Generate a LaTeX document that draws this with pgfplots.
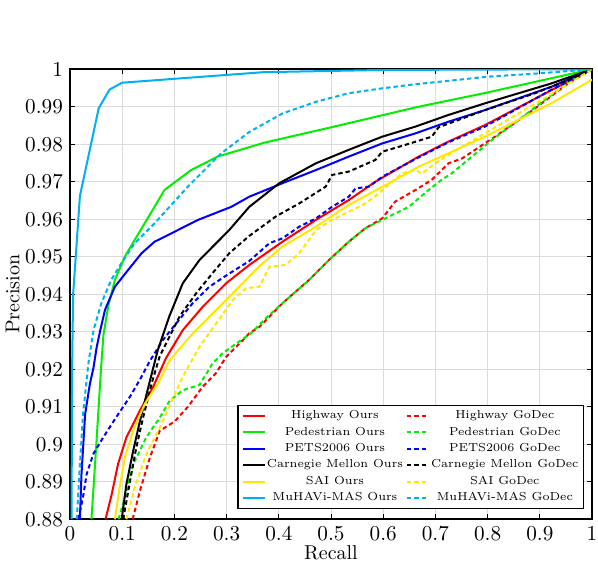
\documentclass[border=0pt]{standalone}
\usepackage{pgfplots}
\pgfplotsset{compat=1.18}
\definecolor{cR}{RGB}{255,0,0}
\definecolor{cG}{RGB}{0,240,0}
\definecolor{cB}{RGB}{0,0,255}
\definecolor{cK}{RGB}{0,0,0}
\definecolor{cY}{RGB}{255,232,0}
\definecolor{cC}{RGB}{0,176,240}
\begin{document}
\begin{tikzpicture}
\path[use as bounding box] (-35pt,-24.4pt) rectangle (264pt,259.6pt);
\begin{axis}[
  at={(0,0)}, anchor=south west,
  scale only axis, width=261pt, height=225pt,
  xmin=0, xmax=1, ymin=0.88, ymax=1,
  xtick={0,0.1,0.2,0.3,0.4,0.5,0.6,0.7,0.8,0.9,1},
  xticklabels={0,0.1,0.2,0.3,0.4,0.5,0.6,0.7,0.8,0.9,1},
  ytick={0.88,0.89,0.9,0.91,0.92,0.93,0.94,0.95,0.96,0.97,0.98,0.99,1},
  yticklabels={0.88,0.89,0.9,0.91,0.92,0.93,0.94,0.95,0.96,0.97,0.98,0.99,1},
  tick label style={font=\fontsize{10.6}{12}\selectfont},
  label style={font=\fontsize{10.8}{12}\selectfont},
  xlabel={Recall}, ylabel={Precision},
  every axis x label/.style={at={(axis description cs:0.5,-0.0756)}, anchor=center},
  every axis y label/.style={at={(axis description cs:-0.11,0.5)}, rotate=90, anchor=center},
  grid=major, grid style={gray!28, line width=0.5pt},
  tick align=inside, major tick length=2.5pt,
  xtick pos=both, ytick pos=both,
  axis line style={line width=0.8pt},
  every tick/.style={black, line width=0.4pt},
  legend columns=2,
  legend cell align=center,
  legend image code/.code={\draw[#1] (0pt,0pt) -- (11pt,0pt);},
  legend style={at={(axis description cs:0.985,0.022)}, anchor=south east,
    font=\fontsize{5.8}{7}\selectfont, draw=black, line width=0.6pt,
    nodes={inner sep=0.5pt},
    inner xsep=2pt, inner ysep=2pt, row sep=1.6pt,
    /tikz/every even column/.append style={column sep=1pt},
    /tikz/every odd column/.append style={column sep=0pt}},
  every axis plot/.append style={line width=1pt},
]
% Highway Ours
\addplot[cR] coordinates {(0.068,0.88) (0.08,0.8867) (0.092,0.8947) (0.108,0.9018) (0.134,0.909) (0.159,0.9152) (0.184,0.923) (0.216,0.9304) (0.254,0.9366) (0.299,0.9429) (0.3435,0.9478) (0.407,0.954) (0.471,0.9598) (0.534,0.9651) (0.585,0.97) (0.668,0.9767) (0.725,0.9807) (0.795,0.9851) (0.922,0.9944) (1,1)};
\addlegendentry{Highway Ours}
% Highway GoDec
\addplot[cR, dash pattern=on 2.2pt off 1.5pt] coordinates {(0.12,0.88) (0.134,0.8876) (0.153,0.8964) (0.172,0.9036) (0.2,0.906) (0.226,0.91) (0.254,0.9153) (0.28,0.919) (0.299,0.9233) (0.331,0.9277) (0.3435,0.9296) (0.363,0.9313) (0.407,0.9376) (0.458,0.9438) (0.496,0.9491) (0.534,0.954) (0.566,0.9576) (0.598,0.9602) (0.623,0.9647) (0.662,0.9678) (0.693,0.9705) (0.725,0.9749) (0.751,0.9762) (0.814,0.982) (0.878,0.9882) (0.954,0.9962) (1,1)};
\addlegendentry{Highway GoDec}
% Pedestrian Ours
\addplot[cG] coordinates {(0.041,0.88) (0.048,0.8946) (0.054,0.908) (0.06,0.9213) (0.064,0.929) (0.073,0.9367) (0.086,0.9438) (0.105,0.95) (0.124,0.9545) (0.143,0.9589) (0.162,0.9633) (0.181,0.9678) (0.232,0.9731) (0.283,0.9767) (0.372,0.9804) (0.5,0.9845) (0.668,0.99) (0.8,0.9938) (1,1)};
\addlegendentry{Pedestrian Ours}
% Pedestrian GoDec
\addplot[cG, dash pattern=on 2.2pt off 1.5pt] coordinates {(0.093,0.88) (0.105,0.8857) (0.121,0.8946) (0.146,0.9018) (0.172,0.9071) (0.191,0.9116) (0.216,0.9144) (0.248,0.9158) (0.273,0.9215) (0.292,0.9242) (0.318,0.9268) (0.347,0.9296) (0.372,0.9332) (0.407,0.9376) (0.458,0.9438) (0.496,0.9491) (0.534,0.954) (0.566,0.9576) (0.611,0.9607) (0.649,0.9633) (0.687,0.9678) (0.712,0.9705) (0.731,0.9722) (0.808,0.9811) (0.884,0.9891) (0.96,0.9971) (1,1)};
\addlegendentry{Pedestrian GoDec}
% PETS2006 Ours
\addplot[cB] coordinates {(0.019,0.88) (0.022,0.892) (0.029,0.908) (0.038,0.916) (0.045,0.9204) (0.051,0.9258) (0.058,0.9304) (0.067,0.9358) (0.086,0.942) (0.111,0.9464) (0.137,0.9509) (0.162,0.954) (0.181,0.9553) (0.245,0.9598) (0.309,0.9633) (0.3435,0.966) (0.407,0.9696) (0.471,0.9731) (0.534,0.9767) (0.598,0.9802) (0.662,0.9829) (0.725,0.986) (0.795,0.9891) (0.922,0.9953) (1,1)};
\addlegendentry{PETS2006 Ours}
% PETS2006 GoDec
\addplot[cB, dash pattern=on 2.2pt off 1.5pt] coordinates {(0.016,0.88) (0.025,0.8859) (0.032,0.8921) (0.045,0.8975) (0.064,0.9019) (0.089,0.9073) (0.115,0.9127) (0.135,0.9175) (0.153,0.9222) (0.178,0.9278) (0.204,0.9323) (0.235,0.9376) (0.267,0.942) (0.305,0.9455) (0.343,0.9488) (0.382,0.9536) (0.407,0.9549) (0.439,0.958) (0.471,0.9602) (0.502,0.9633) (0.534,0.966) (0.547,0.9682) (0.573,0.9687) (0.598,0.9713) (0.668,0.9765) (0.725,0.9805) (0.795,0.9847) (0.922,0.9945) (1,1)};
\addlegendentry{PETS2006 GoDec}
% Carnegie Mellon Ours
\addplot[cK] coordinates {(0.099,0.88) (0.108,0.8893) (0.121,0.8982) (0.134,0.9062) (0.15,0.9152) (0.168,0.925) (0.19,0.934) (0.216,0.9429) (0.248,0.9491) (0.28,0.9536) (0.305,0.9571) (0.3435,0.9633) (0.401,0.9696) (0.471,0.9749) (0.534,0.9785) (0.598,0.982) (0.662,0.9847) (0.725,0.9878) (0.795,0.9909) (0.922,0.9962) (1,1)};
\addlegendentry{Carnegie Mellon Ours}
% Carnegie Mellon GoDec
\addplot[cK, dash pattern=on 2.2pt off 1.5pt] coordinates {(0.102,0.88) (0.115,0.8902) (0.127,0.8991) (0.14,0.9071) (0.156,0.916) (0.172,0.9235) (0.19,0.9285) (0.21,0.9341) (0.242,0.9403) (0.273,0.9456) (0.305,0.9509) (0.343,0.9555) (0.394,0.9607) (0.439,0.9642) (0.49,0.9687) (0.502,0.9718) (0.534,0.9727) (0.585,0.9758) (0.598,0.978) (0.63,0.9793) (0.693,0.982) (0.706,0.9845) (0.795,0.9891) (0.891,0.9936) (0.986,0.9989) (1,1)};
\addlegendentry{Carnegie Mellon GoDec}
% SAI Ours
\addplot[cY] coordinates {(0.086,0.88) (0.095,0.8884) (0.105,0.8964) (0.121,0.9036) (0.143,0.9107) (0.17,0.9165) (0.191,0.9224) (0.235,0.9295) (0.28,0.9358) (0.324,0.942) (0.363,0.9475) (0.407,0.9527) (0.471,0.958) (0.534,0.9638) (0.623,0.9705) (0.668,0.974) (0.795,0.982) (0.922,0.9909) (1,0.9972)};
\addlegendentry{SAI Ours}
% SAI GoDec
\addplot[cY, dash pattern=on 2.2pt off 1.5pt] coordinates {(0.108,0.88) (0.124,0.8884) (0.146,0.8973) (0.172,0.9044) (0.194,0.9112) (0.216,0.918) (0.248,0.926) (0.28,0.9322) (0.312,0.9385) (0.337,0.9416) (0.363,0.942) (0.382,0.9473) (0.413,0.9478) (0.439,0.9509) (0.471,0.9571) (0.502,0.9598) (0.534,0.962) (0.566,0.9642) (0.592,0.9669) (0.617,0.97) (0.636,0.9722) (0.662,0.9731) (0.674,0.9722) (0.7,0.9749) (0.725,0.9772) (0.795,0.9829) (0.903,0.9918) (0.967,0.9971) (1,1)};
\addlegendentry{SAI GoDec}
% MuHAVi-MAS Ours
\addplot[cC] coordinates {(0.003,0.88) (0.004,0.92) (0.006,0.94) (0.011,0.95) (0.019,0.9662) (0.055,0.9896) (0.076,0.9946) (0.1,0.9964) (0.37,0.9992) (0.6,0.9998) (1,1)};
\addlegendentry{MuHAVi-MAS Ours}
% MuHAVi-MAS GoDec
\addplot[cC, dash pattern=on 2.2pt off 1.5pt] coordinates {(0.013,0.88) (0.019,0.8946) (0.025,0.908) (0.035,0.9213) (0.045,0.9304) (0.06,0.9376) (0.079,0.9438) (0.098,0.9482) (0.124,0.9536) (0.162,0.9589) (0.226,0.9687) (0.29,0.9776) (0.344,0.9833) (0.407,0.9882) (0.471,0.9913) (0.534,0.9936) (0.598,0.9949) (0.662,0.996) (0.725,0.9969) (0.8,0.998) (0.9,0.9989) (1,1)};
\addlegendentry{MuHAVi-MAS GoDec}
\end{axis}
\end{tikzpicture}
\end{document}
